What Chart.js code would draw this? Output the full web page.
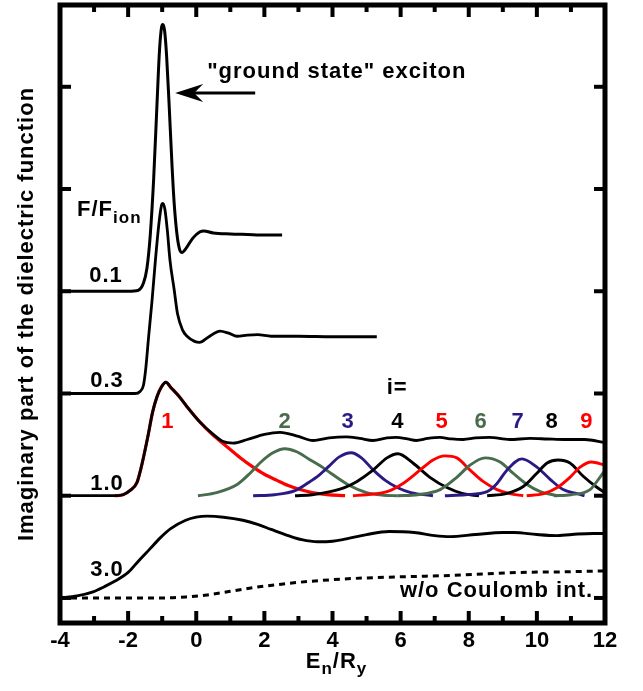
<!DOCTYPE html>
<html>
<head>
<meta charset="utf-8">
<script src="https://cdn.jsdelivr.net/npm/chart.js@4.4.1/dist/chart.umd.min.js"></script>
<style>
  html, body { margin: 0; padding: 0; background: #fff; }
  #wrap { width: 643px; height: 691px; }
</style>
</head>
<body>
<div id="wrap"><canvas id="chart" width="643" height="691"></canvas></div>
<script>
// x axis: E_n / R_y
const xMin = -4, xMax = 12, xStep = 2;
// y axis has no numbers, every curve sits one tick higher than the one below
const yMin = -0.245, yMax = 5.8;
const yTicks = [0, 1, 2, 3, 4, 5];

// F/F_ion = 0.1 (baseline 3)
const f01 = [[-4,3.0],[-2.0,3.0],[-1.7,3.01],[-1.55,3.08],[-1.45,3.22],[-1.35,3.55],[-1.25,4.10],
  [-1.15,4.85],[-1.08,5.35],[-1.02,5.58],[-0.98,5.61],[-0.93,5.55],[-0.87,5.30],[-0.80,4.85],
  [-0.71,4.22],[-0.65,3.87],[-0.56,3.54],[-0.48,3.40],[-0.42,3.38],[-0.3,3.42],[-0.1,3.52],
  [0.1,3.58],[0.22,3.59],[0.5,3.57],[1.0,3.56],[1.5,3.555],[2.0,3.55],[2.52,3.55]];

// F/F_ion = 0.3 (baseline 2)
const f03 = [[-4,2.0],[-1.8,2.0],[-1.65,2.02],[-1.55,2.08],[-1.48,2.25],[-1.4,2.55],[-1.3,2.9],
  [-1.2,3.3],[-1.1,3.65],[-1.02,3.84],[-0.98,3.86],[-0.92,3.8],[-0.85,3.6],[-0.77,3.3],
  [-0.65,3.02],[-0.55,2.78],[-0.4,2.62],[-0.27,2.56],[-0.05,2.51],[0.1,2.5],[0.35,2.55],
  [0.7,2.61],[0.95,2.59],[1.2,2.56],[1.5,2.57],[1.8,2.575],[2.2,2.56],[3.0,2.56],[4.0,2.555],[5.3,2.555]];

// F/F_ion = 1.0 (baseline 1)
const f10 = [[-4,1.0],[-2.4,1.0],[-2.15,1.01],[-1.95,1.05],[-1.74,1.13],[-1.6,1.3],[-1.42,1.58],
  [-1.28,1.82],[-1.15,1.97],[-1.03,2.06],[-0.89,2.11],[-0.75,2.06],[-0.5,1.97],[-0.27,1.87],
  [0.11,1.72],[0.5,1.6],[0.79,1.53],[1.08,1.515],[1.5,1.55],[2.0,1.6],[2.46,1.62],[3.0,1.58],
  [3.43,1.54],[3.9,1.565],[4.4,1.575],[4.8,1.56],[5.19,1.54],[5.6,1.565],[5.87,1.57],[6.2,1.555],
  [6.46,1.54],[6.8,1.56],[7.15,1.57],[7.5,1.555],[7.84,1.55],[8.2,1.565],[8.6,1.57],[9.2,1.55],
  [9.8,1.56],[10.3,1.555],[10.8,1.55],[11.4,1.55],[12,1.52]];

// F/F_ion = 3.0 (baseline 0)
const f30 = [[-4,0.0],[-3.5,0.02],[-3.03,0.06],[-2.7,0.11],[-2.41,0.16],[-2.0,0.25],[-1.7,0.36],
  [-1.36,0.48],[-1.05,0.59],[-0.74,0.68],[-0.31,0.76],[0.0,0.79],[0.32,0.80],[0.8,0.79],[1.37,0.76],
  [1.8,0.72],[2.2,0.67],[2.7,0.61],[3.1,0.57],[3.57,0.55],[4.0,0.555],[4.3,0.57],[5.0,0.62],
  [5.66,0.65],[6.4,0.64],[7.0,0.61],[7.45,0.60],[8.2,0.62],[9.0,0.64],[9.33,0.64],[10.0,0.62],
  [10.6,0.61],[11.2,0.625],[11.65,0.63],[12,0.63]];

// without Coulomb interaction (dashed)
const noCoul = [[-4,0],[-1.0,0.0],[-0.3,0.01],[0.32,0.03],[1.0,0.065],[1.66,0.10],[2.5,0.135],
  [3.25,0.16],[4.3,0.185],[5.34,0.20],[6.4,0.21],[7.45,0.22],[8.5,0.235],[9.53,0.25],[10.7,0.255],[12,0.265]];

// single contributions i = 1..10 of the F/F_ion = 1.0 curve
const i1 = [[-2.4,1.0],[-2.15,1.01],[-1.95,1.05],[-1.74,1.13],[-1.6,1.3],[-1.42,1.58],[-1.28,1.82],
  [-1.15,1.97],[-1.03,2.06],[-0.89,2.11],[-0.75,2.06],[-0.5,1.97],[-0.27,1.87],[0.11,1.72],[0.5,1.59],
  [0.9,1.48],[1.3,1.37],[1.67,1.28],[2.0,1.21],[2.37,1.15],[2.7,1.10],[3.05,1.06],[3.4,1.03],[3.84,1.01],[4.37,1.0]];
const i2 = [[0.05,1.0],[0.6,1.03],[1.2,1.11],[1.58,1.22],[1.9,1.33],[2.25,1.42],[2.6,1.46],[2.95,1.43],
  [3.3,1.36],[3.65,1.29],[3.95,1.22],[4.5,1.10],[5.0,1.03],[5.5,1.005],[5.9,1.0]];
const i3 = [[1.67,1.0],[2.3,1.01],[2.9,1.05],[3.3,1.13],[3.6,1.2],[3.9,1.29],[4.2,1.38],[4.55,1.42],
  [4.85,1.37],[5.2,1.25],[5.55,1.15],[5.9,1.08],[6.3,1.03],[6.95,1.0]];
const i4 = [[2.9,1.0],[3.4,1.01],[3.93,1.04],[4.35,1.08],[4.72,1.14],[5.19,1.25],[5.6,1.37],[5.92,1.41],
  [6.36,1.32],[6.86,1.18],[7.36,1.08],[7.83,1.02],[8.3,1.0]];
const i5 = [[4.6,1.0],[5.0,1.01],[5.6,1.04],[6.07,1.12],[6.57,1.25],[6.95,1.35],[7.3,1.39],[7.65,1.37],
  [8.04,1.25],[8.42,1.14],[8.83,1.06],[9.2,1.02],[9.6,1.0]];
const i6 = [[5.9,1.0],[6.5,1.01],[7.16,1.06],[7.65,1.18],[8.04,1.3],[8.48,1.37],[8.92,1.33],[9.3,1.22],
  [9.71,1.11],[10.1,1.04],[10.6,1.0]];
const i7 = [[7.3,1.0],[7.9,1.01],[8.54,1.04],[8.83,1.12],[9.12,1.25],[9.56,1.36],[10.0,1.28],[10.39,1.16],
  [10.77,1.06],[11.18,1.02],[11.4,1.0]];
const i8 = [[8.54,1.0],[9.1,1.02],[9.6,1.09],[10.0,1.22],[10.3,1.32],[10.62,1.35],[10.97,1.32],[11.36,1.19],
  [11.77,1.08],[12.0,1.03]];
const i9 = [[9.7,1.0],[10.2,1.02],[10.6,1.08],[10.97,1.18],[11.27,1.28],[11.6,1.33],[12.0,1.3]];
const i10 = [[10.5,1.0],[11.0,1.01],[11.56,1.06],[11.85,1.18],[12.0,1.25]];

// curve labels: text, E position, y position
const fieldLabels = [['0.1',-2.65,3.15],['0.3',-2.62,2.12],['1.0',-2.62,1.115],['3.0',-2.62,0.27]];
const iLabels = ['1','2','3','4','5','6','7','8','9'];
const iLabelE = [-0.83,2.61,4.46,5.92,7.22,8.36,9.45,10.45,11.47];

const RED = '#ff0000', GREEN = '#486c4c', BLUE = '#2b1a84', BLACK = '#000000';
const iColors = [RED, GREEN, BLUE, BLACK, RED, GREEN, BLUE, BLACK, RED];

function line(pts, color, width, dash) {
  return {
    data: pts.map(p => ({x: p[0], y: p[1]})),
    borderColor: color,
    borderWidth: width,
    borderDash: dash || [],
    pointRadius: 0,
    fill: false,
    cubicInterpolationMode: 'monotone'
  };
}

// first dataset is drawn on top
const datasets = [
  line(f01, BLACK, 3),
  line(f03, BLACK, 2.8),
  line(f10, BLACK, 2.8),
  line(f30, BLACK, 2.9),
  line(noCoul, BLACK, 3, [6, 5]),
  line(i10, GREEN, 2.9),
  line(i9, RED, 2.9),
  line(i8, BLACK, 2.9),
  line(i7, BLUE, 2.9),
  line(i6, GREEN, 2.9),
  line(i5, RED, 2.9),
  line(i4, BLACK, 2.9),
  line(i3, BLUE, 2.9),
  line(i2, GREEN, 2.9),
  line(i1, RED, 3.2)
];

const FONT = '"Liberation Sans", Arial, sans-serif';
const BIG = 'bold 22px ' + FONT, SMALL = 'bold 17px ' + FONT;

const frame = {
  id: 'frame',
  afterDraw(chart) {
    const ctx = chart.ctx, a = chart.chartArea, x = chart.scales.x, y = chart.scales.y;
    ctx.save();
    ctx.strokeStyle = '#000';
    ctx.lineWidth = 5;
    ctx.strokeRect(a.left, a.top, a.right - a.left, a.bottom - a.top);
    ctx.lineWidth = 4;
    const seg = (x1, y1, x2, y2) => { ctx.beginPath(); ctx.moveTo(x1, y1); ctx.lineTo(x2, y2); ctx.stroke(); };
    x.ticks.forEach((t, k) => {
      const px = x.getPixelForValue(t.value);
      seg(px, a.bottom, px, a.bottom - 12);
      seg(px, a.top, px, a.top + 12);
      if (k < x.ticks.length - 1) {
        const mx = x.getPixelForValue(t.value + xStep / 2);
        seg(mx, a.bottom, mx, a.bottom - 7);
        seg(mx, a.top, mx, a.top + 7);
      }
    });
    yTicks.forEach(v => {
      const py = y.getPixelForValue(v);
      seg(a.left, py, a.left + 11, py);
      seg(a.right, py, a.right - 11, py);
    });
    ctx.restore();
  }
};

const texts = {
  id: 'texts',
  afterDraw(chart) {
    const ctx = chart.ctx, a = chart.chartArea, x = chart.scales.x, y = chart.scales.y;
    const X = v => x.getPixelForValue(v), Y = v => y.getPixelForValue(v);
    ctx.save();
    ctx.fillStyle = '#000';
    ctx.font = BIG;
    ctx.letterSpacing = '1px';
    ctx.textBaseline = 'middle';
    ctx.textAlign = 'center';
    fieldLabels.forEach(l => ctx.fillText(l[0], X(l[1]), Y(l[2])));
    iLabels.forEach((t, k) => {
      ctx.fillStyle = iColors[k];
      ctx.fillText(t, X(iLabelE[k]), Y(1.72));
    });
    ctx.fillStyle = '#000';
    ctx.fillText('i=', X(5.9), Y(2.05));

    // F/F_ion
    ctx.textAlign = 'left';
    ctx.textBaseline = 'alphabetic';
    let fx = X(-3.5), fy = Y(3.74);
    ctx.fillText('F/F', fx, fy);
    fx += ctx.measureText('F/F').width;
    ctx.font = SMALL;
    ctx.fillText('ion', fx, fy + 7);

    // ground state annotation
    ctx.font = BIG;
    ctx.textBaseline = 'middle';
    ctx.fillText('"ground state" exciton', X(0.32), Y(5.15));
    const ax1 = X(1.73), ax0 = X(-0.62), ay = Y(4.94);
    ctx.lineWidth = 3;
    ctx.beginPath(); ctx.moveTo(ax1, ay); ctx.lineTo(ax0 + 15, ay); ctx.stroke();
    ctx.beginPath();
    ctx.moveTo(ax0, ay);
    ctx.lineTo(ax0 + 28, ay - 9);
    ctx.lineTo(ax0 + 19, ay);
    ctx.lineTo(ax0 + 28, ay + 9);
    ctx.closePath();
    ctx.fill();

    ctx.textAlign = 'right';
    ctx.fillText('w/o Coulomb int.', X(11.65), Y(0.07));

    // x axis title E_n/R_y
    ctx.textAlign = 'left';
    ctx.textBaseline = 'alphabetic';
    const parts = [['E', BIG, 0], ['n', SMALL, 6], ['/R', BIG, 0], ['y', SMALL, 6]];
    let w = 0;
    parts.forEach(p => { ctx.font = p[1]; w += ctx.measureText(p[0]).width; });
    let tx = (a.left + a.right) / 2 + 4 - w / 2;
    const ty = a.bottom + 45;
    parts.forEach(p => {
      ctx.font = p[1];
      ctx.fillText(p[0], tx, ty + p[2]);
      tx += ctx.measureText(p[0]).width;
    });

    // y axis title
    ctx.font = BIG;
    ctx.textAlign = 'center';
    ctx.textBaseline = 'middle';
    ctx.translate(a.left - 33, (a.top + a.bottom) / 2);
    ctx.rotate(-Math.PI / 2);
    ctx.fillText('Imaginary part of the dielectric function', 0, 0);
    ctx.restore();
  }
};

new Chart(document.getElementById('chart'), {
  type: 'line',
  data: { datasets: datasets },
  options: {
    responsive: false,
    animation: false,
    events: [],
    layout: { padding: { top: 5, right: 38, left: 0, bottom: 0 } },
    plugins: { legend: { display: false }, tooltip: { enabled: false } },
    scales: {
      x: {
        type: 'linear', min: xMin, max: xMax,
        grid: { display: false, drawTicks: false },
        border: { display: false },
        ticks: { stepSize: xStep, color: '#000', padding: 5, font: { family: FONT, size: 22, weight: 'bold' } },
        afterFit: s => { s.height = 68; }
      },
      y: {
        type: 'linear', min: yMin, max: yMax,
        grid: { display: false, drawTicks: false },
        border: { display: false },
        ticks: { display: false },
        afterFit: s => { s.width = 60; }
      }
    }
  },
  plugins: [frame, texts]
});
</script>
</body>
</html>
